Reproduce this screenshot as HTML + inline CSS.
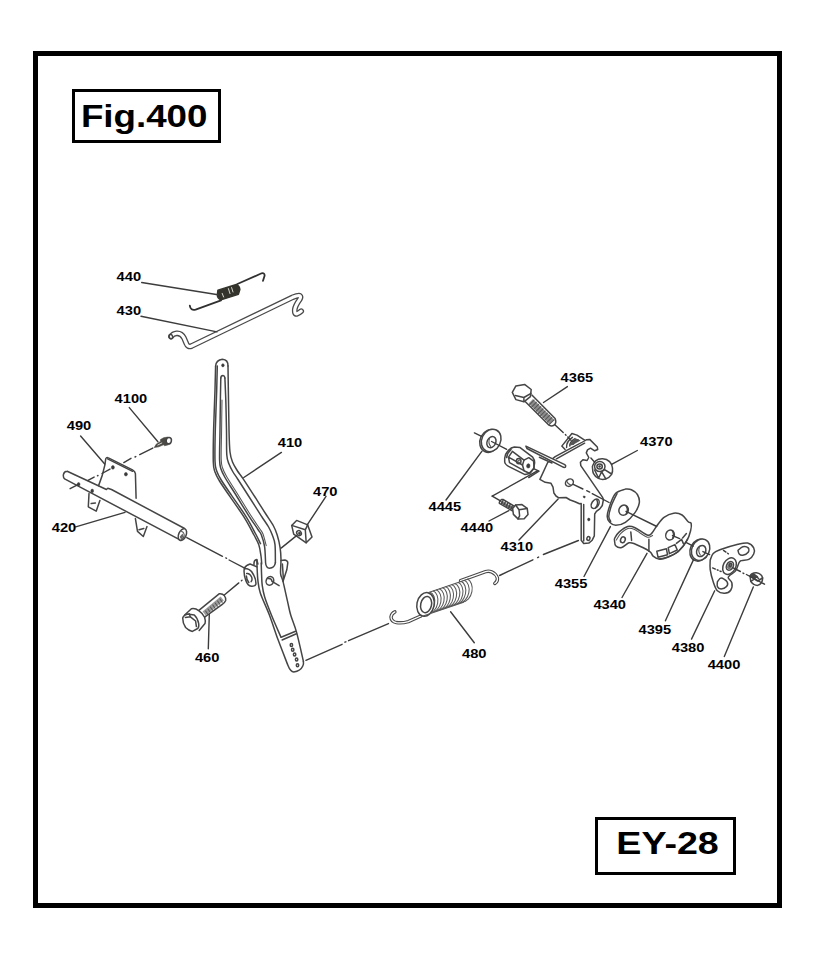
<!DOCTYPE html>
<html lang="en">
<head>
<meta charset="utf-8">
<title>Fig.400 EY-28</title>
<style>
html,body{margin:0;padding:0;background:#fff;}
body{width:828px;height:960px;position:relative;overflow:hidden;font-family:"Liberation Sans",Arial,sans-serif;}
#frame{position:absolute;left:33px;top:51px;width:739px;height:847px;border:5px solid #000;}
.box{position:absolute;border:3px solid #000;background:#fff;box-sizing:border-box;}
#figbox{left:72px;top:89px;width:149px;height:54px;}
#eybox{left:595px;top:817px;width:141px;height:58px;}
svg{position:absolute;left:0;top:0;}
svg text{font-family:"Liberation Sans",Arial,sans-serif;font-weight:bold;fill:#000;}
.lbl text{font-size:12px;}
.ln{fill:none;stroke:#454545;stroke-width:1.5;stroke-linecap:round;stroke-linejoin:round;}
.th{fill:none;stroke:#555;stroke-width:1.05;stroke-linecap:round;stroke-linejoin:round;}
.ld line{fill:none;stroke:#3c3c3c;stroke-width:1.4;stroke-linecap:round;}
.wf{fill:#fff;stroke:#454545;stroke-width:1.5;stroke-linecap:round;stroke-linejoin:round;}
.dk{fill:#3a3a3a;stroke:#3a3a3a;stroke-width:0.5;}
</style>
</head>
<body>
<div id="frame"></div>
<div class="box" id="figbox"></div>
<div class="box" id="eybox"></div>
<svg width="828" height="960" viewBox="0 0 828 960">
<text x="80.9" y="126.7" font-size="32" textLength="126.6" lengthAdjust="spacingAndGlyphs">Fig.400</text>
<text x="616.3" y="854.3" font-size="31" textLength="102.5" lengthAdjust="spacingAndGlyphs">EY-28</text>
<g id="parts">
<path d="M237.4,284 L261.6,273.3 Q264.8,272.6 264.6,275.8 L263,280.8 M221,300.4 L195.6,309.7 Q190.6,311 189.8,305.6" fill="none" stroke="#303030" stroke-width="1.8" stroke-linecap="round" stroke-linejoin="round"/>
<path d="M217.9,290.2 L236.3,284.5 Q239.6,286 239.9,289.6 L238.4,294.3 L220.9,299.9 Q217.3,298.4 217.3,294.8Z" fill="#34342c" stroke="#34342c" stroke-width="1.4" stroke-linejoin="round"/>
<path d="M222.2,293.4 l1.4,3.6 M228.4,288.6 l1.6,5 M231.6,287.6 l1.4,4.4" stroke="#e8e8e0" stroke-width="0.9" fill="none" stroke-linecap="round"/>
<path d="M171,336.6 Q173,333.6 176.7,333.3 Q181.5,333 184,338 L186.3,343.4 Q187.8,347.6 191.6,346 L292.6,297.3 Q298,295 299.6,295.6 Q301.4,296.8 299.6,299.6 Q295.4,305.4 294.8,309.4 Q294.4,314 296.6,314 Q298.8,313.4 301.2,311.2" fill="none" stroke="#4a4a4a" stroke-width="5.7" stroke-linecap="round" stroke-linejoin="round"/>
<path d="M171,336.6 Q173,333.6 176.7,333.3 Q181.5,333 184,338 L186.3,343.4 Q187.8,347.6 191.6,346 L292.6,297.3 Q298,295 299.6,295.6 Q301.4,296.8 299.6,299.6 Q295.4,305.4 294.8,309.4 Q294.4,314 296.6,314 Q298.8,313.4 301.2,311.2" fill="none" stroke="#fff" stroke-width="3.1" stroke-linecap="round" stroke-linejoin="round"/>
<ellipse class="ln" cx="170.9" cy="336.6" rx="1.7" ry="2.2" transform="rotate(-20 170.9 336.6)"/>
<path d="M154.2,447.6 L156.4,444 L160.6,441.4 L160.4,439.6 Q163.6,436.9 168,437.1 L170.4,443.8 Q167.4,445.5 164.6,445.7 L163.4,444.8 L158.8,446.8 Z" fill="#4c4a44" stroke="#4c4a44" stroke-width="0.6" stroke-linejoin="round"/>
<ellipse class="wf" cx="168.8" cy="440.6" rx="2.6" ry="3.2" transform="rotate(10 168.8 440.6)"/>
<path d="M157.8,445 L161.8,443" stroke="#e8e8e8" stroke-width="0.9" fill="none" stroke-linecap="round"/>
<path class="wf" d="M98.6,485.6 Q102.6,476 104.9,464.8 L105.7,459 Q106.4,456.8 108.4,457.9 L132.5,469.9 Q135.2,471.4 135.4,473.6 L136.1,498.2"/>
<path class="ln" d="M107.6,458.8 L132.6,471.3"/>
<ellipse class="dk" cx="112.9" cy="467.4" rx="1.5" ry="1.8"/>
<ellipse class="dk" cx="125.9" cy="474.2" rx="1.5" ry="1.8"/>
<path class="ln" d="M89,493.6 L88.3,506.8 L96.2,511.2 L99.9,500.4"/>
<path class="ln" d="M91.2,503.6 L95.4,503"/>
<path class="ln" d="M135.4,518.6 L137.5,531.4 L143.3,536.5 L147,526.6"/>
<path class="ln" d="M139,529.8 L143.8,528.6"/>
<path class="ln" d="M67.2,471.2 L106.4,489.5 L107.8,488.3 L111.5,489.5 L184.6,528.5 M64.6,478.8 L178.6,539.2 M67.2,471.2 Q64,471.4 63.4,474.6 Q63,477.6 64.6,478.8"/>
<ellipse class="wf" cx="182.4" cy="534.6" rx="3.7" ry="6.2" transform="rotate(24 182.4 534.6)"/>
<path class="th" d="M181.6,531.4 Q184.4,532 184.2,536 Q183.4,539 181,539.4"/>
<path d="M179.6,536.8 L182.6,533.6 L183.6,536.6 L181.2,539.4Z" fill="#666"/>
<ellipse class="dk" cx="78.6" cy="484.3" rx="1.4" ry="1.8"/>
<ellipse class="dk" cx="92.2" cy="490.9" rx="1.4" ry="1.8"/>
<path class="ln" d="M215.6,366 Q216,360 222.4,359.2 Q228.2,359.6 228,366"/>
<path class="ln" d="M215.6,366.0 C215.5,370.0 215.3,379.3 215.0,390.0 C214.7,400.7 213.9,418.0 213.6,430.0 C213.3,442.0 213.1,455.0 213.3,462.0 C213.5,469.0 214.0,468.8 215.0,472.0 C216.0,475.2 217.0,476.9 219.5,481.0 C222.0,485.1 225.8,490.5 230.0,496.6 C234.2,502.7 240.5,511.4 244.5,517.8 C248.5,524.2 251.6,530.5 254.0,535.0 C256.4,539.5 257.6,541.2 258.8,544.7 C260.0,548.2 260.5,552.8 261.0,556.0 C261.5,559.2 261.6,562.7 261.7,564.0"/>
<path class="ln" d="M228.0,366.0 C228.1,371.7 228.3,389.3 228.5,400.0 C228.7,410.7 228.8,421.3 229.0,430.0 C229.2,438.7 229.4,446.7 230.0,452.0 C230.6,457.3 231.2,458.8 232.5,462.0 C233.8,465.2 235.7,468.1 237.5,471.0 C239.3,473.9 239.9,473.9 243.5,479.3 C247.1,484.7 255.3,497.5 259.0,503.3 C262.7,509.1 263.4,510.2 265.8,514.0 C268.2,517.8 271.6,522.5 273.5,526.0 C275.4,529.5 276.1,531.4 277.2,535.0 C278.3,538.6 279.5,543.6 280.1,547.6 C280.7,551.6 280.9,554.9 281.0,559.2 C281.1,563.5 280.3,569.9 280.6,573.6 C280.9,577.3 281.8,576.6 283.0,581.4 C284.2,586.2 286.5,597.0 287.8,602.6 C289.1,608.2 289.2,610.0 290.7,615.0 C292.2,620.0 294.5,624.7 296.6,632.4 C298.7,640.1 302.3,656.6 303.4,661.4"/>
<path class="ln" d="M220.8,378.0 C220.7,381.7 220.5,391.3 220.4,400.0 C220.3,408.7 220.1,420.0 220.0,430.0 C219.9,440.0 219.4,453.5 219.6,460.0 C219.8,466.5 220.1,466.1 221.0,469.0 C221.9,471.9 222.7,473.5 225.0,477.5 C227.3,481.5 230.7,486.6 234.7,493.0 C238.7,499.4 244.9,509.7 248.8,515.8 C252.7,521.9 255.9,526.3 258.0,529.5 C260.1,532.7 260.3,532.1 261.4,535.0 C262.5,537.9 263.9,541.9 264.6,546.6 C265.3,551.3 265.4,560.3 265.6,563.0 Q266,568 269.5,568.2 Q274.6,568 275.4,562.6"/>
<path class="ln" d="M224.9,378.0 C225.1,381.7 225.5,391.3 225.8,400.0 C226.1,408.7 226.3,420.8 226.5,430.0 C226.7,439.2 226.4,449.3 226.8,455.0 C227.2,460.7 228.0,461.2 229.0,464.0 C230.0,466.8 231.5,469.4 233.0,472.0 C234.5,474.6 234.2,473.6 238.0,479.5 C241.8,485.4 252.0,501.4 256.0,507.7 C260.0,514.0 259.9,513.8 262.0,517.0 C264.1,520.2 266.9,524.0 268.6,527.0 C270.3,530.0 271.2,532.0 272.3,535.0 C273.4,538.0 274.5,540.1 275.0,544.7 C275.5,549.3 275.3,559.6 275.4,562.6"/>
<path class="ln" d="M220.8,378 Q221,375.6 223,375.6 Q224.8,375.8 224.9,378"/>
<path class="ln" d="M217.3,366.0 C217.2,370.0 217.0,379.3 216.7,390.0 C216.4,400.7 215.6,418.2 215.3,430.0 C215.0,441.8 214.8,454.2 215.0,461.0 C215.2,467.8 215.7,467.8 216.7,471.0 C217.7,474.2 218.7,475.9 221.2,480.0 C223.7,484.1 227.5,489.5 231.7,495.6 C235.9,501.7 242.2,510.4 246.2,516.8 C250.2,523.2 253.3,529.5 255.7,534.0 C258.1,538.5 259.7,542.1 260.5,543.7"/>
<path class="th" d="M222.0,400.0 C221.9,405.0 221.7,420.2 221.6,430.0 C221.5,439.8 221.0,452.7 221.2,459.0 C221.4,465.3 221.7,465.1 222.6,468.0 C223.5,470.9 224.3,472.5 226.6,476.5 C228.9,480.5 232.3,485.6 236.3,492.0 C240.3,498.4 246.5,508.7 250.4,514.8 C254.3,520.9 257.5,525.3 259.6,528.5 C261.7,531.7 261.9,531.1 263.0,534.0 C264.1,536.9 265.7,543.7 266.2,545.6"/>
<ellipse class="dk" cx="222.9" cy="365.3" rx="1.3" ry="1.6"/>
<path class="ln" d="M256.9,560.1 C256.9,561.8 257.0,566.6 257.2,570.0 C257.4,573.4 257.4,576.6 257.9,580.4 C258.4,584.2 258.4,587.2 260.3,593.0 C262.2,598.8 266.4,607.1 269.4,615.0 C272.4,622.9 275.1,631.7 278.2,640.1 C281.3,648.5 286.3,661.1 287.9,665.3 Q290.4,671.8 293.8,672 Q300.6,671 302.8,666 Q303.8,664 303.4,661.4"/>
<path class="ln" d="M261.2,563.0 C261.3,565.0 261.4,571.3 261.6,575.0 C261.8,578.7 261.7,581.6 262.2,585.2 C262.7,588.8 263.1,591.8 264.6,596.8 C266.1,601.8 268.7,608.3 271.4,615.0 C274.1,621.7 279.4,633.5 281.0,637.2"/>
<path class="ln" d="M281.1,637.2 L295.6,631.2 M282.1,640 L296.4,633.8"/>
<path class="ln" d="M281,560.6 L284.9,560.1 Q287.6,560.6 287.8,562.8 L286.8,569.8 L283,581.4 M282.4,564 L283.4,579"/>
<ellipse class="ln" cx="269.9" cy="580.9" rx="3.7" ry="4.4" transform="rotate(25 269.9 580.9)"/>
<path class="ln" d="M268.4,578.6 Q271.8,578.4 272,581.4 L279.1,585.7"/>
<ellipse class="ln" cx="291.4" cy="645" rx="1.2" ry="1.5"/>
<ellipse class="ln" cx="292.7" cy="649.8" rx="1.2" ry="1.5"/>
<ellipse class="ln" cx="294.6" cy="654.6" rx="1.2" ry="1.5"/>
<ellipse class="ln" cx="296.6" cy="659.5" rx="1.2" ry="1.5"/>
<ellipse class="ln" cx="297.5" cy="665.3" rx="1.2" ry="1.5"/>
<path class="wf" d="M244.3,568.3 Q246,565 250.1,564 L256.9,566.9 M244.3,568.6 Q243.4,574 245.8,580.4 Q247.6,585.6 251.4,586.3 Q255,586.6 255.9,584.3 Q256.2,580 254,575.6 Q252,571 249.2,569.6 Q246.6,568.4 244.3,568.6 M246.7,573.6 Q249.6,573 251.6,577 Q252.6,580 251.2,581.6 M246.4,576 Q246.6,580 248.8,582.4"/>
<path class="ln" d="M254,564.6 Q253.6,560 256.9,559.4 M256.9,560.1 L257.9,564"/>
<path class="wf" d="M199.2,610.1 L219.4,593.7 Q222.6,593.4 224.3,595.6 Q226.2,598 225.7,600.5 Q224.6,603 222.3,604.3 L204.6,617.2"/>
<path d="M202.6,611.4 L220.6,596.6 L223.8,600.6 L205.8,615.4 Z" fill="#9a9a9a" stroke="none"/>
<path class="th" d="M205.6,611 l2.2,3.2 M208,609 l2.2,3.2 M210.4,607 l2.2,3.2 M212.8,605 l2.2,3.2 M215.2,603 l2.2,3.2 M217.6,601 l2.2,3.2 M220,599 l2.2,3.2"/>
<path class="wf" d="M184.7,615 L191.4,608.7 Q195.4,608 198.7,610.6 Q203,613.6 204.6,617.2 Q205.8,621 205,623.6 L199.2,630.4"/>
<path class="wf" d="M182.7,617.9 Q183.6,615 187.6,614 L194.3,615 Q197.6,618 198.7,623.6 Q199.2,627.4 197.7,628.5 L192.4,631.4 Q188.6,630.6 185.6,627.5 Q182.6,623 182.7,617.9Z"/>
<path class="ln" d="M185.4,617.4 L190.4,616.8 L195.6,621 L196.4,626.6 M190.4,616.8 L189.2,613.8"/>
<path class="wf" d="M291.7,525.4 L296.6,520.4 L307.7,524.9 L312,537 L306.2,542.8 L293.7,534.1 Z"/>
<path class="ln" d="M291.7,525.4 L305.3,529.8 L306.2,542.8 M305.3,529.8 L307.7,524.9"/>
<ellipse class="ln" cx="299" cy="533.1" rx="2.2" ry="2.6" transform="rotate(-30 299 533.1)"/>
<ellipse class="dk" cx="299.4" cy="533.4" rx="1" ry="1.3" transform="rotate(-30 299.4 533.4)"/>
<path d="M394.9,611.9 Q391.6,613.4 391,617 Q391.2,621.6 396.4,622.6 Q402,623.4 408.3,621.6 L420.8,616 Q422.4,614.8 422.3,611.6" fill="none" stroke="#4a4a4a" stroke-width="3.5" stroke-linecap="round" stroke-linejoin="round"/>
<path d="M394.9,611.9 Q391.6,613.4 391,617 Q391.2,621.6 396.4,622.6 Q402,623.4 408.3,621.6 L420.8,616 Q422.4,614.8 422.3,611.6" fill="none" stroke="#fff" stroke-width="1.3" stroke-linecap="round" stroke-linejoin="round"/>
<path d="M460.6,580.6 L485.6,571.6 Q488.6,570.6 491.6,571.8 Q496,573.6 497.4,578 Q497.8,581.6 494.8,583.4" fill="none" stroke="#4a4a4a" stroke-width="3.5" stroke-linecap="round" stroke-linejoin="round"/>
<path d="M460.6,580.6 L485.6,571.6 Q488.6,570.6 491.6,571.8 Q496,573.6 497.4,578 Q497.8,581.6 494.8,583.4" fill="none" stroke="#fff" stroke-width="1.3" stroke-linecap="round" stroke-linejoin="round"/>
<path d="M427.9,593.1 L468.4,579.3 A8.0,11.6 12 0 1 463.6,601.9 L423.1,615.7Z" fill="#fff" stroke="none"/>
<path d="M467.2,579.1 A8.0,11.6 12 0 1 462.8,601.7" fill="none" stroke="#5a5a5a" stroke-width="1.05"/>
<path d="M464.1,580.2 A8.0,11.6 12 0 1 459.7,602.8" fill="none" stroke="#5a5a5a" stroke-width="1.05"/>
<path d="M461.0,581.3 A8.0,11.6 12 0 1 456.6,603.8" fill="none" stroke="#5a5a5a" stroke-width="1.05"/>
<path d="M457.9,582.3 A8.0,11.6 12 0 1 453.5,604.9" fill="none" stroke="#5a5a5a" stroke-width="1.05"/>
<path d="M454.8,583.4 A8.0,11.6 12 0 1 450.4,606.0" fill="none" stroke="#5a5a5a" stroke-width="1.05"/>
<path d="M451.6,584.4 A8.0,11.6 12 0 1 447.2,607.0" fill="none" stroke="#5a5a5a" stroke-width="1.05"/>
<path d="M448.5,585.5 A8.0,11.6 12 0 1 444.1,608.1" fill="none" stroke="#5a5a5a" stroke-width="1.05"/>
<path d="M445.4,586.6 A8.0,11.6 12 0 1 441.0,609.2" fill="none" stroke="#5a5a5a" stroke-width="1.05"/>
<path d="M442.3,587.6 A8.0,11.6 12 0 1 437.9,610.2" fill="none" stroke="#5a5a5a" stroke-width="1.05"/>
<path d="M439.2,588.7 A8.0,11.6 12 0 1 434.8,611.3" fill="none" stroke="#5a5a5a" stroke-width="1.05"/>
<path d="M436.1,589.7 A8.0,11.6 12 0 1 431.7,612.3" fill="none" stroke="#5a5a5a" stroke-width="1.05"/>
<path d="M432.9,590.8 A8.0,11.6 12 0 1 428.5,613.4" fill="none" stroke="#5a5a5a" stroke-width="1.05"/>
<path d="M429.8,591.9 A8.0,11.6 12 0 1 425.4,614.5" fill="none" stroke="#5a5a5a" stroke-width="1.05"/>
<ellipse class="wf" cx="425.5" cy="604.4" rx="8.6" ry="12.0" transform="rotate(12 425.5 604.4)"/>
<ellipse class="ln" cx="426.1" cy="604.6" rx="5.4" ry="8.2" transform="rotate(12 426.1 604.6)"/>
<path class="th" d="M427.9,592.7 L468.4,578.9"/>
<path class="th" d="M423.1,616.1 L463.6,602.3"/>
<path class="wf" d="M555.2,456.6 L586.3,439.8 L589.7,439.4 L597.3,447.0 L597.7,449.5 L594.7,450.8 L590.5,448.2 L587.5,449.9 L586.3,452.9 L588.8,457.5 L587.1,460.5 L582.9,459.7 L580.4,462.2 L580.8,465.6 L602.6,497.4 L603.4,499.6 L602.3,505.5 L599.8,508.9 L596.4,511.4 L594.7,514.0 L594.3,535.9 L592.2,540.2 L588.8,543.1 L583.7,543.5 L581.2,540.2 L581.2,503.4 L579.5,503.8 L575.0,501.7 L570.2,500.0 L566.0,497.5 L558.8,497.8 L556.0,496.0 L553.9,493.0 L553.0,487.2 L551.0,483.3 L545.2,482.3 L539.9,479.4 L547.7,462.5Z"/>
<path class="ln" d="M556.4,458.8 L584.6,443.2 M583.7,504.4 L583.7,541"/>
<ellipse class="ln" cx="569.4" cy="482.7" rx="4.2" ry="3.4" transform="rotate(-35 569.4 482.7)"/>
<path class="th" d="M566.6,481 Q568,484.6 571.6,485.4"/>
<ellipse class="ln" cx="595.2" cy="503.8" rx="3.4" ry="5.2" transform="rotate(32 595.2 503.8)"/>
<path class="ln" d="M596.8,499.8 Q599,503.6 595.4,508"/>
<ellipse class="dk" cx="584.2" cy="496.9" rx="1.1" ry="0.9" transform="rotate(30 584.2 496.9)"/>
<ellipse class="dk" cx="588.8" cy="519.5" rx="1.2" ry="1.4"/>
<ellipse class="ln" cx="588.4" cy="538.5" rx="1.5" ry="1.9" transform="rotate(20 588.4 538.5)"/>
<path class="ln" d="M534.1,468.8 L539,471.2 L528.8,477.5"/>
<path class="wf" d="M525.9,446.1 L564.8,464.6 Q566.4,466 565.4,467.2 Q564.2,468 562.6,466.9 L526.9,448.5 Z"/>
<path class="ln" d="M539.4,457.2 L552,463"/>
<path class="wf" d="M565.1,449.5 L561.8,446.1 L571.9,433.5 L577,435.1 L584.6,440.2"/>
<path class="ln" d="M566.6,447.4 Q566.2,441.6 572.4,437.4 M569.8,446 Q569.6,441.6 575,438.6 M573.4,444 Q574,441 578,439.8"/>
<path d="M570,445.6 Q570.6,441 576,438.4 L580.6,440.6 L572.6,445 Z" fill="#555"/>
<path class="wf" d="M504.7,458.2 Q505.4,453.6 507.6,451.4 Q510.6,447.6 514.3,447.1 L520.1,447.6 L532.7,457.2 Q534.8,460 534.6,463 L533.6,468.8 L529.8,473.6 L525,474.6 L509.5,466.9 Q505,464.6 504.7,462 Z"/>
<path class="ln" d="M524,460.1 L528.8,457.7 L533.6,461.1 L534.1,467.9 L529.3,473.2 L524,470.7 L522.5,465 Z"/>
<path class="ln" d="M524,460.1 L512.4,451.4 L508.5,457.2 L522.5,465 M508.5,457.2 L509.5,462.6 L524,470.7 M506.6,457.6 Q507,453 511,449.6"/>
<ellipse class="ln" cx="518.7" cy="461.1" rx="2.3" ry="2.6"/>
<ellipse class="th" cx="519.2" cy="461.4" rx="1.2" ry="1.4"/>
<ellipse class="dk" cx="528.3" cy="465.9" rx="1.7" ry="2.2" transform="rotate(10 528.3 465.9)"/>
<ellipse class="wf" cx="489.9" cy="440.9" rx="9.8" ry="11.8" transform="rotate(26 489.9 440.9)"/>
<ellipse class="wf" cx="491.2" cy="440.4" rx="9.4" ry="11.6" transform="rotate(26 491.2 440.4)"/>
<ellipse class="ln" cx="491.4" cy="442.1" rx="4.3" ry="5.8" transform="rotate(26 491.4 442.1)"/>
<path class="th" d="M489.6,438.4 Q487.8,442.6 490.6,446.4"/>
<path class="wf" d="M525.4,401.8 L549,425.2 Q552.6,427 554.8,424.6 Q556.6,422 555.1,418.5 L531.9,395"/>
<path d="M528.6,403.6 L549.6,424.2 L554,419.6 L533,399 Z" fill="#8c8c8c" stroke="none"/>
<path class="th" d="M529.6,404.6 l4.6,-4.6 M531.8,406.8 l4.6,-4.6 M534.0,409.0 l4.6,-4.6 M536.2,411.2 l4.6,-4.6 M538.4,413.4 l4.6,-4.6 M540.6,415.6 l4.6,-4.6 M542.8,417.8 l4.6,-4.6 M545.0,420.0 l4.6,-4.6 M547.2,422.2 l4.6,-4.6 M549.4,424.4 l4.6,-4.6"/>
<path class="wf" d="M512.3,392.4 L515.9,385.9 L524.6,384.4 L531.2,389.5 L530.4,396.7 L523.9,401.8 L515.9,399.6Z" stroke-linejoin="round"/>
<path class="ln" d="M523.9,397.5 L531,393.4 M523.9,397.5 L523.9,401.6 M523.9,397.5 L515.4,395.6"/>
<path class="wf" d="M592.4,466.4 C592.9,465.5 593.9,462.1 595.6,460.8 C597.3,459.5 600.3,458.7 602.6,458.8 C604.9,458.9 608.0,460.1 609.6,461.6 C611.2,463.1 612.2,465.8 612.5,468.0 C612.8,470.2 612.5,472.8 611.4,474.6 C610.2,476.4 607.8,478.4 605.6,479.0 C603.4,479.6 600.4,479.3 598.4,478.4 C596.4,477.5 594.4,475.4 593.4,473.4 C592.4,471.4 592.6,467.6 592.4,466.4Z"/>
<ellipse class="ln" cx="599.8" cy="466.6" rx="5.2" ry="5"/>
<ellipse class="ln" cx="599.6" cy="466.4" rx="2.7" ry="2.5"/>
<ellipse class="dk" cx="599.6" cy="466.4" rx="1.1" ry="1"/>
<path class="ln" d="M594.6,470 L598.6,478.2 M598.6,478.2 L601.6,471.6 M601.6,471.6 L605.8,478.8 M604.6,469.6 L611.6,474 M604.6,469.6 L601.6,471.6"/>
<path class="wf" d="M501.4,499.6 Q499,500.6 499.4,503.4 L512.4,510.8 L515,506.6 L503.4,499.6 Z"/>
<path d="M501.4,501 L513.8,507.6 L512.4,510 L500.6,503.6 Z" fill="#777" stroke="none"/>
<path class="ln" d="M503,500.6 l-1.4,3 M505.4,501.8 l-1.4,3 M507.8,503 l-1.4,3.2 M510.2,504.4 l-1.4,3.2 M512.4,505.8 l-1.4,3.2"/>
<path class="wf" d="M512.6,508.4 L515.6,505.0 L522.0,504.6 L527.2,508.4 L528.0,514.4 L524.2,518.8 L518.0,518.9 L513.4,514.4Z"/>
<path class="ln" d="M515.6,505 L519,509.8 L519.6,515.8 L518,518.9 M519,509.8 L527.2,508.4"/>
<path class="wf" d="M625.4,489.1 C623.8,489.8 618.2,490.8 615.7,493.3 C613.2,495.8 611.7,500.4 610.3,504.2 C608.9,508.0 607.3,513.2 607.2,516.2 C607.1,519.2 608.3,520.8 609.7,522.3 C611.1,523.8 613.1,525.3 615.7,525.3 C618.3,525.3 622.2,524.4 625.4,522.3 C628.6,520.2 632.7,515.8 635.0,512.6 C637.3,509.4 638.9,505.9 639.3,502.9 C639.7,499.9 638.7,496.7 637.4,494.5 C636.1,492.3 633.4,490.6 631.4,489.7 C629.4,488.8 626.4,489.2 625.4,489.1Z"/>
<path class="ln" d="M617.0,493.6 C616.1,495.4 613.2,500.8 611.8,504.6 C610.4,508.4 609.0,513.4 608.8,516.2 C608.6,519.0 610.3,520.5 610.6,521.4"/>
<ellipse class="ln" cx="623.6" cy="510.2" rx="4.6" ry="5.2" transform="rotate(25 623.6 510.2)"/>
<path class="ln" d="M626.4,506.4 Q628.4,509.6 626.4,513.4"/>
<path class="wf" d="M614.5,540.4 C614.5,540.0 614.0,539.4 614.8,538.0 C615.6,536.6 617.1,533.8 619.3,531.9 C621.5,530.0 625.2,527.2 627.8,526.5 C630.4,525.8 631.8,526.3 635.0,527.7 C638.2,529.1 644.3,534.1 647.1,535.0 C649.9,535.9 650.3,534.6 651.9,533.1 C653.5,531.6 654.8,528.5 656.8,525.9 C658.8,523.3 661.2,519.5 664.0,517.4 C666.8,515.3 670.7,513.6 673.7,513.2 C676.7,512.8 679.7,513.6 682.1,515.0 C684.5,516.4 686.7,520.3 688.2,521.7 C689.7,523.1 690.8,522.0 691.2,523.5 C691.6,525.0 691.3,527.9 690.6,530.7 C689.9,533.5 689.0,537.0 687.0,540.4 C685.0,543.8 681.7,548.5 678.5,551.3 C675.3,554.1 670.8,556.0 667.6,557.3 C664.4,558.6 661.6,559.3 659.2,559.1 C656.8,558.9 654.7,557.4 653.1,556.1 C651.5,554.8 652.5,553.3 649.5,551.3 C646.5,549.3 638.4,545.4 635.0,544.0 C631.6,542.6 631.2,542.2 629.0,542.8 C626.8,543.4 623.9,547.1 621.7,547.6 C619.5,548.1 616.9,547.0 615.7,545.8 C614.5,544.6 614.7,541.3 614.5,540.4Z"/>
<path class="th" d="M616.4,540.0 C617.1,538.9 618.7,535.5 620.6,533.6 C622.5,531.7 625.7,529.1 628.0,528.4 C630.3,527.7 631.5,528.2 634.6,529.6 C637.7,531.0 643.8,536.0 646.8,537.0 C649.8,538.0 651.6,535.7 652.6,535.4"/>
<ellipse class="ln" cx="622.9" cy="539.8" rx="2.3" ry="3" transform="rotate(20 622.9 539.8)"/>
<path class="ln" d="M630.8,531.9 L631.6,540.4 M648.9,539.2 L648.9,551.3"/>
<ellipse class="ln" cx="670" cy="535" rx="4.2" ry="5" transform="rotate(20 670 535)"/>
<path class="ln" d="M672.6,531.4 Q674.6,534.6 672.6,538.6"/>
<path class="ln" d="M656.8,551.2 L666.4,548.8 L667.6,554.8 L658,557.2 Z M668.2,547.6 L674.9,544.6 L677.3,550 L669.4,553.6 Z M676.4,543.4 L681.6,539.4 L683.4,543.6 M682.6,538 L686.4,533.6"/>
<path class="ln" d="M659.2,559.1 Q670,557.6 678.5,551.3 Q684.6,545.6 687.6,539" stroke-width="1.9"/>
<ellipse class="wf" cx="699.4" cy="550.2" rx="9.2" ry="11.3" transform="rotate(25 699.4 550.2)"/>
<ellipse class="wf" cx="700.6" cy="549.7" rx="8.8" ry="11.1" transform="rotate(25 700.6 549.7)"/>
<ellipse class="ln" cx="701.2" cy="551" rx="4.4" ry="5.8" transform="rotate(25 701.2 551)"/>
<path class="th" d="M699.4,547.6 Q697.8,551.4 700.4,555"/>
<path class="wf" d="M710.2,560.0 C710.7,558.9 711.6,555.1 713.2,553.4 C714.8,551.7 715.8,551.3 719.9,549.8 C724.0,548.3 733.4,545.4 738.0,544.3 C742.6,543.2 745.0,542.5 747.6,543.1 C750.2,543.7 752.7,546.1 753.7,547.9 C754.7,549.7 754.5,552.1 753.7,554.0 C752.9,555.9 750.8,558.3 748.8,559.4 C746.8,560.5 743.2,560.1 741.6,560.6 C740.0,561.1 740.2,560.7 739.2,562.4 C738.2,564.1 737.2,568.7 735.6,570.9 C734.0,573.1 730.7,574.5 729.5,575.7 C728.3,576.9 727.9,576.9 728.3,578.1 C728.7,579.3 731.5,581.0 731.9,583.0 C732.3,585.0 731.9,588.5 730.7,590.2 C729.5,591.9 726.9,593.1 724.7,593.2 C722.5,593.3 719.3,592.7 717.4,590.8 C715.5,588.9 714.4,585.3 713.2,581.8 C712.0,578.3 710.7,573.3 710.2,569.7 C709.7,566.1 710.2,561.6 710.2,560.0Z"/>
<path class="ln" d="M738.0,550.4 C738.8,549.8 741.1,547.1 742.8,546.7 C744.5,546.3 747.3,547.0 748.2,547.9 C749.1,548.8 749.1,551.0 748.2,552.2 C747.3,553.4 744.3,554.9 742.8,555.2 C741.3,555.5 740.0,554.8 739.2,554.0 C738.4,553.2 738.2,551.0 738.0,550.4Z"/>
<path class="ln" d="M717.4,581.8 C718.0,581.2 719.5,578.1 721.1,578.1 C722.7,578.1 726.2,580.4 727.1,581.8 C728.0,583.2 727.5,585.4 726.5,586.6 C725.5,587.8 722.6,589.0 721.1,589.0 C719.6,589.0 718.0,587.8 717.4,586.6 C716.8,585.4 717.4,582.6 717.4,581.8Z"/>
<ellipse class="wf" cx="729.5" cy="566.1" rx="6.2" ry="8.8" transform="rotate(28 729.5 566.1)"/>
<ellipse class="ln" cx="729.9" cy="565.9" rx="3.3" ry="4.6" transform="rotate(28 729.9 565.9)"/>
<ellipse cx="729.9" cy="565.9" rx="2.4" ry="3.6" transform="rotate(28 729.9 565.9)" fill="#777"/>
<ellipse class="wf" cx="730.4" cy="565" rx="1" ry="1.4" transform="rotate(28 730.4 565)"/>
<path class="wf" d="M750,576 Q751.6,572.6 756.4,572.8 Q761.6,573.6 762.6,578 Q762.8,583.6 757.6,585.4 Q753.4,585.4 750.8,581.4 Z"/>
<path class="ln" d="M750,576 L757.6,581 L762.6,578 M752,574.4 L758.6,578.4 M750.8,581.4 L754.6,578.8"/>
<path d="M750,576 L753.6,573 L758.4,576.4 L754.8,579.2 Z" fill="#444"/>
</g>
<g class="ld">
<line x1="141.7" y1="282.5" x2="218" y2="294.8"/>
<line x1="141" y1="316.3" x2="217" y2="331.9"/>
<line x1="129.3" y1="407.6" x2="157.9" y2="441.8"/>
<line x1="80.6" y1="436" x2="104.7" y2="464"/>
<line x1="75.7" y1="526.9" x2="125" y2="512.4"/>
<line x1="152.8" y1="448.1" x2="139.7" y2="454.6"/>
<line x1="135.8" y1="456.6" x2="135" y2="457"/>
<line x1="131" y1="458.3" x2="123.8" y2="462.6"/>
<line x1="110" y1="469.1" x2="102" y2="473.5"/>
<line x1="98" y1="475.5" x2="97.4" y2="475.8"/>
<line x1="94.1" y1="477.1" x2="88" y2="480.4"/>
<line x1="78" y1="484.6" x2="70.1" y2="488.7"/>
<line x1="281.4" y1="452.4" x2="243.8" y2="477.5"/>
<line x1="186.8" y1="537.6" x2="222.5" y2="556.3"/>
<line x1="225.8" y1="557.9" x2="226.6" y2="558.3"/>
<line x1="229.1" y1="560" x2="244.2" y2="567.8"/>
<line x1="241.4" y1="580.8" x2="242" y2="580.3"/>
<line x1="208.3" y1="648.8" x2="209.3" y2="614.5"/>
<line x1="224.3" y1="595" x2="238.8" y2="582.9"/>
<line x1="326" y1="496.4" x2="307.2" y2="524.9"/>
<line x1="296.6" y1="535.6" x2="281.1" y2="548.1"/>
<line x1="450.6" y1="611.8" x2="474.3" y2="642.8"/>
<line x1="305.9" y1="660.3" x2="342.1" y2="644.3"/>
<line x1="344.9" y1="642.2" x2="345.9" y2="641.8"/>
<line x1="348.6" y1="640.7" x2="388.5" y2="623.6"/>
<line x1="499.6" y1="575.5" x2="532.9" y2="559.8"/>
<line x1="537.6" y1="557.6" x2="538.6" y2="557.1"/>
<line x1="543.4" y1="554.5" x2="578.4" y2="540.5"/>
<line x1="567.4" y1="386.6" x2="543.5" y2="402.5"/>
<line x1="637.3" y1="450.5" x2="611.6" y2="464.3"/>
<line x1="482" y1="451.2" x2="446" y2="500"/>
<line x1="508.8" y1="510.6" x2="489" y2="521"/>
<line x1="558.1" y1="499" x2="519" y2="540"/>
<line x1="610.4" y1="526.6" x2="584" y2="576.5"/>
<line x1="647" y1="553.3" x2="622" y2="597.5"/>
<line x1="693.4" y1="559.9" x2="665.4" y2="620.8"/>
<line x1="714.7" y1="590.8" x2="691.5" y2="639.1"/>
<line x1="753.3" y1="587" x2="724.3" y2="656.5"/>
<line x1="474.4" y1="432.9" x2="481.6" y2="436.3"/>
<line x1="491.6" y1="441.5" x2="506.7" y2="449.3"/>
<line x1="555.1" y1="425" x2="563.2" y2="432.6"/>
<line x1="565.4" y1="434.6" x2="566" y2="435.2"/>
<line x1="567.8" y1="437" x2="571" y2="440.2"/>
<line x1="537.8" y1="470.7" x2="492.2" y2="496.1"/>
<line x1="492.2" y1="496.1" x2="500.9" y2="501.2"/>
<line x1="590.9" y1="458" x2="594.7" y2="462.2"/>
<line x1="573.2" y1="484.4" x2="582.9" y2="489"/>
<line x1="586.7" y1="490.7" x2="589.7" y2="492.1"/>
<line x1="592.2" y1="493.7" x2="609.1" y2="502.5"/>
<line x1="626" y1="511.4" x2="656.8" y2="526.5"/>
<line x1="672.5" y1="535.6" x2="679.7" y2="538.6"/>
<line x1="686.4" y1="542.6" x2="693.3" y2="546.1"/>
<line x1="702.9" y1="551.6" x2="709.6" y2="554.6"/>
<line x1="733.1" y1="567.9" x2="740.4" y2="571.5"/>
<line x1="743" y1="573.1" x2="743.8" y2="573.5"/>
<line x1="746.4" y1="574.5" x2="764.5" y2="584.2"/>
<line x1="723.5" y1="550.4" x2="729.5" y2="554.6" stroke-dasharray="3 2 1 2"/>
<line x1="712.6" y1="567.9" x2="721.1" y2="571.5" stroke-dasharray="3 2 1 2"/>
</g>
<g class="lbl">
<text x="116.6" y="280.8" textLength="24.5" lengthAdjust="spacingAndGlyphs">440</text>
<text x="116.6" y="314.6" textLength="24.5" lengthAdjust="spacingAndGlyphs">430</text>
<text x="114.6" y="402.8" textLength="32.6" lengthAdjust="spacingAndGlyphs">4100</text>
<text x="66.8" y="429.7" textLength="24.5" lengthAdjust="spacingAndGlyphs">490</text>
<text x="51.8" y="531.7" textLength="24.5" lengthAdjust="spacingAndGlyphs">420</text>
<text x="277.8" y="446.8" textLength="24.5" lengthAdjust="spacingAndGlyphs">410</text>
<text x="313.0" y="496.1" textLength="24.5" lengthAdjust="spacingAndGlyphs">470</text>
<text x="194.9" y="661.8" textLength="24.5" lengthAdjust="spacingAndGlyphs">460</text>
<text x="462.0" y="657.8" textLength="24.5" lengthAdjust="spacingAndGlyphs">480</text>
<text x="560.6" y="382" textLength="32.6" lengthAdjust="spacingAndGlyphs">4365</text>
<text x="640.0" y="445.8" textLength="32.6" lengthAdjust="spacingAndGlyphs">4370</text>
<text x="428.5" y="510.7" textLength="32.6" lengthAdjust="spacingAndGlyphs">4445</text>
<text x="460.6" y="531.6" textLength="32.6" lengthAdjust="spacingAndGlyphs">4440</text>
<text x="500.5" y="550.6" textLength="32.6" lengthAdjust="spacingAndGlyphs">4310</text>
<text x="554.8" y="588" textLength="32.6" lengthAdjust="spacingAndGlyphs">4355</text>
<text x="593.4" y="608.8" textLength="32.6" lengthAdjust="spacingAndGlyphs">4340</text>
<text x="638.5" y="633.9" textLength="32.6" lengthAdjust="spacingAndGlyphs">4395</text>
<text x="671.8" y="651.5" textLength="32.6" lengthAdjust="spacingAndGlyphs">4380</text>
<text x="707.7" y="668.9" textLength="32.6" lengthAdjust="spacingAndGlyphs">4400</text>
</g>
</svg>
</body>
</html>
